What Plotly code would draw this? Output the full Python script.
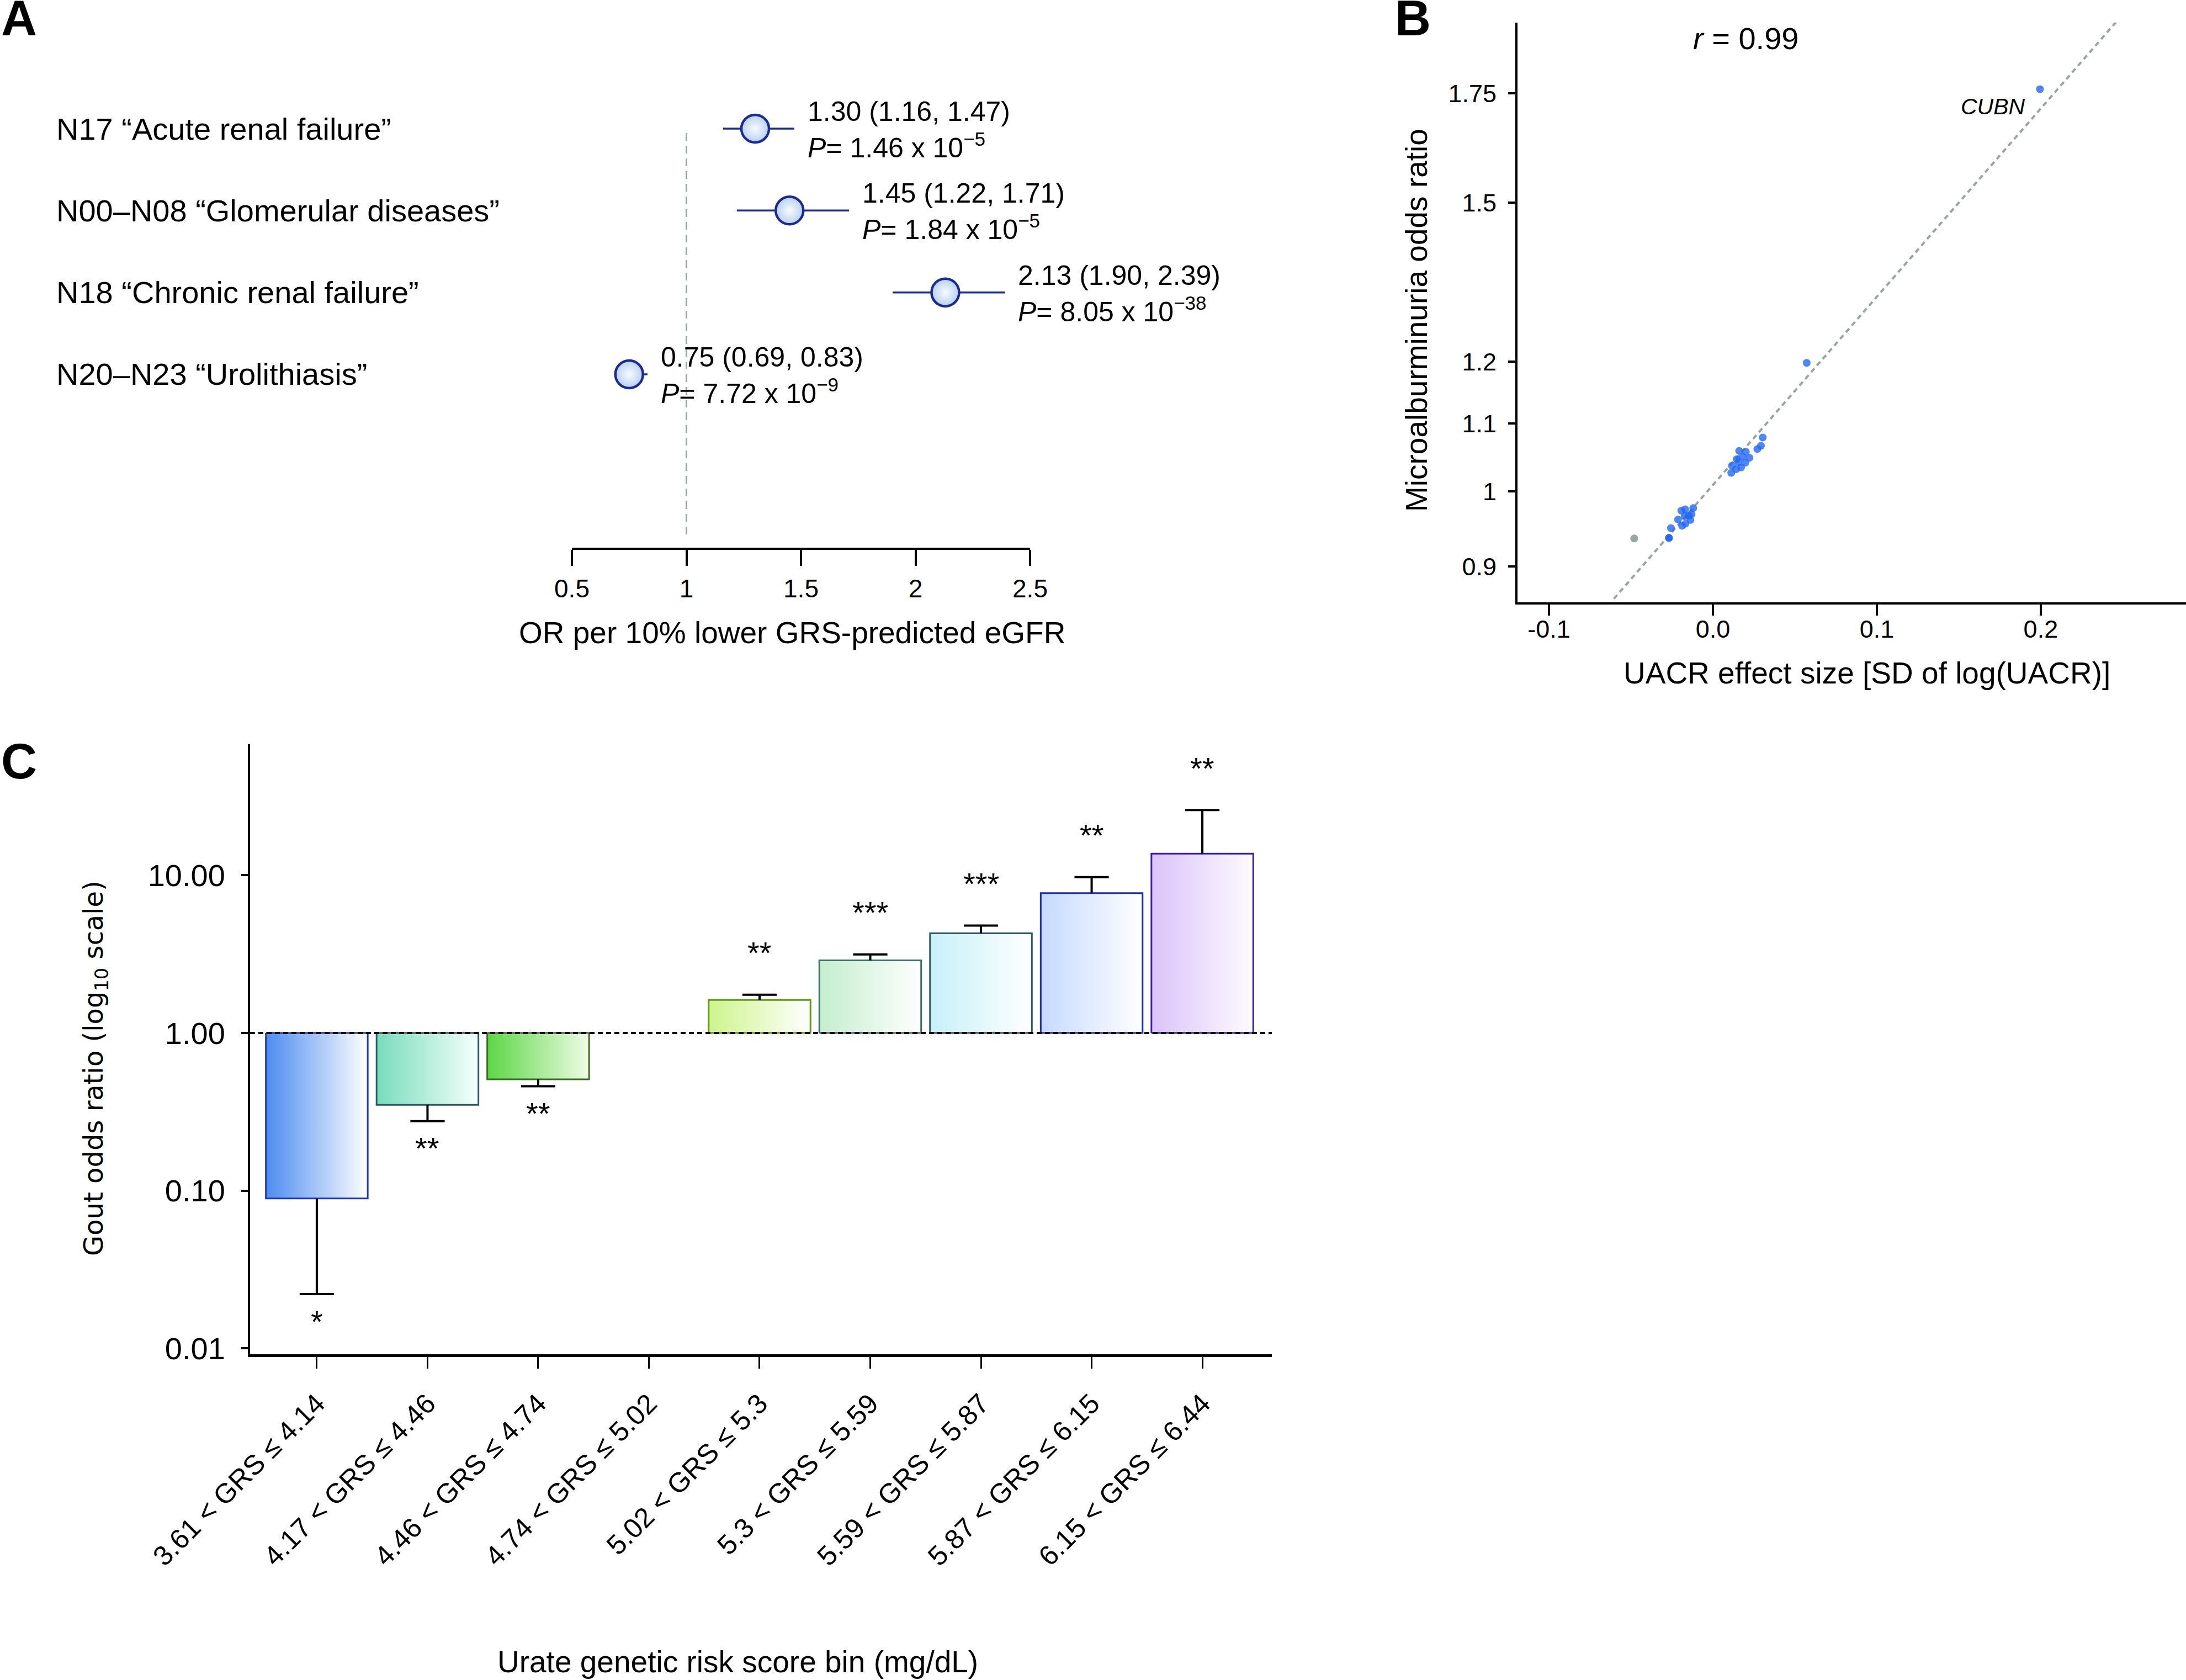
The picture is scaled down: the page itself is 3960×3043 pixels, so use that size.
import math
import plotly.graph_objects as go

W, H = 3960, 3043
FONT = "Liberation Sans, Arial, Helvetica, sans-serif"

# ---------------- Panel A data ----------------
a_labels = ['N17 \u201cAcute renal failure\u201d', 'N00\u2013N08 \u201cGlomerular diseases\u201d',
            'N18 \u201cChronic renal failure\u201d', 'N20\u2013N23 \u201cUrolithiasis\u201d']
a_or = [1.30, 1.45, 2.13, 0.75]
a_lo = [1.16, 1.22, 1.90, 0.69]
a_hi = [1.47, 1.71, 2.39, 0.83]
a_p_mant = ['1.46', '1.84', '8.05', '7.72']
a_p_exp = ['\u22125', '\u22125', '\u221238', '\u22129']
a_ticks = [0.5, 1, 1.5, 2, 2.5]
a_ticktext = ['0.5', '1', '1.5', '2', '2.5']

# ---------------- Panel B data ----------------
b_x = [0.0304, 0.0293, 0.0271, 0.0223, 0.0201, 0.0160, 0.0181, 0.0145, 0.0198, 0.0156,
       0.0172, 0.0116, 0.0141, 0.0112, -0.0120, -0.0130, -0.0137, -0.0147, -0.0169, -0.0193,
       -0.0173, -0.0213, -0.0167, -0.0188, -0.0256, -0.0268, -0.0268, 0.0572, 0.1995]
b_y = [1.0787, 1.0662, 1.0613, 1.0484, 1.0572, 1.0586, 1.0498, 1.0463, 1.0411, 1.0417,
       1.0342, 1.0369, 1.0315, 1.0264, 0.9768, 0.9687, 0.9607, 0.9665, 0.9752, 0.9732,
       0.9657, 0.9612, 0.9557, 0.9528, 0.9498, 0.9367, 0.9367, 1.198, 1.760]
b_grey_x = [-0.0480]
b_grey_y = [0.936]
b_line_x = [-0.0604, 0.2475]
b_line_y = [0.860, 1.942]
b_xticks = [-0.1, 0.0, 0.1, 0.2]
b_xticktext = ['-0.1', '0.0', '0.1', '0.2']
b_yticks = [0.9, 1, 1.1, 1.2, 1.5, 1.75]
b_yticktext = ['0.9', '1', '1.1', '1.2', '1.5', '1.75']

# ---------------- Panel C data ----------------
c_lower = ['3.61', '4.17', '4.46', '4.74', '5.02', '5.3', '5.59', '5.87', '6.15']
c_upper = ['4.14', '4.46', '4.74', '5.02', '5.3', '5.59', '5.87', '6.15', '6.44']
c_or = [0.0894, 0.350, 0.508, None, 1.62, 2.89, 4.29, 7.71, 13.7]
c_err = [0.0221, 0.276, 0.460, None, 1.75, 3.15, 4.80, 9.73, 25.9]
c_stars = ['*', '**', '**', '', '**', '***', '***', '**', '**']
c_fill = ['#4d8cf0', '#78dcbc', '#5cd646', None, '#cdf48c', '#c4eecd', '#c6f0f8', '#c6daff', '#dbc3fa']
c_fill_end = ['#ffffff', '#f6fffb', '#effce6', None, '#ffffff', '#ffffff', '#ffffff', '#ffffff', '#fdfbff']
c_edge = ['#2238b0', '#2d5a62', '#3b6e22', None, '#5c9a12', '#3a6f6a', '#2a5670', '#1c32a4', '#3a22a2']
c_yticks = [0.01, 0.1, 1, 10]
c_yticktext = ['0.01', '0.10', '1.00', '10.00']

fig = go.Figure()
navy = '#1c2b8e'

# ---------- Panel A ----------
a_y = [len(a_or) - i for i in range(len(a_or))]
fig.add_trace(go.Scatter(
    x=a_or, y=a_y, mode='markers', xaxis='x', yaxis='y',
    error_x=dict(type='data', symmetric=False,
                 array=[h - e for h, e in zip(a_hi, a_or)],
                 arrayminus=[e - l for e, l in zip(a_or, a_lo)],
                 width=0, thickness=3.5, color=navy),
    marker=dict(size=50, color='#b8d0f3', gradient=dict(type='radial', color='#f8fbff'),
                line=dict(color=navy, width=4.5)),
    cliponaxis=False, hoverinfo='skip'))

# ---------- Panel B ----------
fig.add_trace(go.Scatter(x=b_line_x, y=b_line_y, mode='lines', xaxis='x2', yaxis='y2',
                         line=dict(color='#97a59e', width=4, dash='9px,7px'), hoverinfo='skip'))
fig.add_trace(go.Scatter(x=b_x, y=b_y, mode='markers', xaxis='x2', yaxis='y2',
                         marker=dict(size=14, color='rgba(30,100,242,0.78)', line=dict(width=0)),
                         hoverinfo='skip'))
fig.add_trace(go.Scatter(x=b_grey_x, y=b_grey_y, mode='markers', xaxis='x2', yaxis='y2',
                         marker=dict(size=14, color='#9aa4a0', line=dict(width=0)), hoverinfo='skip'))

# ---------- Panel C ----------
half = 0.46
for i, v in enumerate(c_or):
    if v is None:
        continue
    fig.add_trace(go.Scatter(
        x=[i - half, i + half, i + half, i - half, i - half],
        y=[1, 1, v, v, 1], mode='lines', fill='toself', xaxis='x3', yaxis='y3',
        fillgradient=dict(type='horizontal', colorscale=[[0, c_fill[i]], [1, c_fill_end[i]]]),
        line=dict(color=c_edge[i], width=3), hoverinfo='skip'))

ex, ey = [], []
cap = 0.155
for i, (v, e) in enumerate(zip(c_or, c_err)):
    if v is None:
        continue
    ex += [i, i, None, i - cap, i + cap, None]
    ey += [v, e, None, e, e, None]
fig.add_trace(go.Scatter(x=ex, y=ey, mode='lines', xaxis='x3', yaxis='y3',
                         line=dict(color='black', width=4), hoverinfo='skip', cliponaxis=False))

annotations = []
# Panel A annotations
for i in range(len(a_or)):
    annotations.append(dict(xref='paper', yref='y', x=100 / W, y=a_y[i], text=a_labels[i],
                            showarrow=False, xanchor='left', yanchor='middle',
                            font=dict(size=56)))
    annotations.append(dict(xref='x', yref='y', x=a_hi[i], y=a_y[i], xshift=22, yshift=31,
                            text='%.2f (%.2f, %.2f)' % (a_or[i], a_lo[i], a_hi[i]),
                            showarrow=False, xanchor='left', yanchor='middle', font=dict(size=50)))
    annotations.append(dict(xref='x', yref='y', x=a_hi[i], y=a_y[i], xshift=22, yshift=-31,
                            text='<i>P</i>= %s x 10<sup>%s</sup>' % (a_p_mant[i], a_p_exp[i]),
                            showarrow=False, xanchor='left', yanchor='middle', font=dict(size=50)))
annotations.append(dict(xref='paper', yref='paper', x=1435 / W, y=1 - 1146 / H,
                        text='OR per 10% lower GRS-predicted eGFR', showarrow=False,
                        xanchor='center', yanchor='middle', font=dict(size=55)))
# Panel labels
for lab, px, py in [('A', 0, 0), ('B', 2525, 0), ('C', 0, 1346)]:
    annotations.append(dict(xref='paper', yref='paper', x=px / W, y=1 - py / H, text='<b>%s</b>' % lab,
                            showarrow=False, xanchor='left', yanchor='top', yshift=19,
                            font=dict(size=90, family='Liberation Sans, Arial')))
# Panel B annotations
annotations.append(dict(xref='paper', yref='paper', x=3162 / W, y=1 - 70 / H,
                        text='<i>r</i> = 0.99', showarrow=False, xanchor='center', yanchor='middle',
                        font=dict(size=56)))
annotations.append(dict(xref='paper', yref='paper', x=3610 / W, y=1 - 193 / H,
                        text='<i>CUBN</i>', showarrow=False, xanchor='center', yanchor='middle',
                        font=dict(size=41)))
annotations.append(dict(xref='paper', yref='paper', x=2566 / W, y=1 - 580 / H,
                        text='Microalburminuria odds ratio', textangle=-90, showarrow=False,
                        xanchor='center', yanchor='middle', font=dict(size=55)))
annotations.append(dict(xref='paper', yref='paper', x=3382 / W, y=1 - 1219 / H,
                        text='UACR effect size [SD of log(UACR)]', showarrow=False,
                        xanchor='center', yanchor='middle', font=dict(size=55)))
# Panel C annotations
for i, (e, s) in enumerate(zip(c_err, c_stars)):
    if not s:
        continue
    above = c_or[i] > 1
    annotations.append(dict(xref='x3', yref='y3', x=i, y=math.log10(e), text=s, showarrow=False,
                            xanchor='center', yanchor='middle', yshift=76 if above else -49,
                            font=dict(size=56)))
annotations.append(dict(xref='paper', yref='paper', x=172 / W, y=1 - 1935 / H,
                        text='Gout odds ratio (log<sub>10</sub> scale)', textangle=-90,
                        showarrow=False, xanchor='center', yanchor='middle',
                        font=dict(size=48, family='DejaVu Sans, Verdana, sans-serif')))
annotations.append(dict(xref='paper', yref='paper', x=1336 / W, y=1 - 3010 / H,
                        text='Urate genetic risk score bin (mg/dL)', showarrow=False,
                        xanchor='center', yanchor='middle', font=dict(size=55)))

c_ticktext = ['%s &lt; GRS \u2264 %s' % (lo, up) for lo, up in zip(c_lower, c_upper)]

shapes = [
    dict(type='line', xref='x', yref='y', x0=1, x1=1, y0=-0.956, y1=3.95,
         line=dict(color='#93a79d', width=3, dash='14px,9px'), layer='below'),
    dict(type='line', xref='x3 domain', yref='y3', x0=0, x1=1, y0=1, y1=1,
         line=dict(color='black', width=4, dash='9px,6px'), layer='above'),
]

axis_common = dict(showgrid=False, zeroline=False, showline=True, linecolor='black',
                   ticks='outside', tickcolor='black', automargin=False)

fig.update_layout(
    template='none',
    width=W, height=H, autosize=False,
    margin=dict(l=0, r=0, t=0, b=0, pad=0),
    paper_bgcolor='white', plot_bgcolor='white', showlegend=False,
    font=dict(family=FONT, color='black'),
    xaxis=dict(domain=[1036 / W, 1866 / W], range=[0.5, 2.5], anchor='y',
               tickvals=a_ticks, ticktext=a_ticktext, ticklen=29, tickwidth=4, linewidth=4,
               tickfont=dict(size=46), ticklabelstandoff=2, **axis_common),
    yaxis=dict(domain=[1 - 992 / H, 1 - 200 / H], range=[-1.117, 4.2225], anchor='x',
               visible=False, automargin=False),
    xaxis2=dict(domain=[2749 / W, 1.0], range=[-0.1192, 0.2886], anchor='y2',
                tickvals=b_xticks, ticktext=b_xticktext, ticklen=20, tickwidth=4, linewidth=4,
                tickfont=dict(size=45), ticklabelstandoff=-14, **axis_common),
    yaxis2=dict(domain=[1 - 1091 / H, 1 - 40.7 / H], type='log', range=[-0.0677, 0.2862],
                anchor='x2', tickvals=b_yticks, ticktext=b_yticktext, ticklen=13, tickwidth=4,
                linewidth=4, tickfont=dict(size=45), ticklabelstandoff=12, **axis_common),
    xaxis3=dict(domain=[453 / W, 2304 / W], range=[-0.603, 8.628], anchor='y3',
                tickvals=list(range(len(c_lower))), ticktext=c_ticktext, tickangle=-45,
                ticklen=21, tickwidth=3, linewidth=5, tickfont=dict(size=50),
                ticklabelstandoff=14, **axis_common),
    yaxis3=dict(domain=[1 - 2453 / H, 1 - 1348 / H], type='log', range=[-2.037, 1.831],
                anchor='x3', tickvals=c_yticks, ticktext=c_yticktext, ticklen=12, tickwidth=4,
                linewidth=4, tickfont=dict(size=56), ticklabelstandoff=18, **axis_common),
    annotations=annotations, shapes=shapes,
)

fig.write_html('out.html', config={'displayModeBar': False},
               post_script="document.body.style.margin='0';document.body.style.overflow='hidden';")
